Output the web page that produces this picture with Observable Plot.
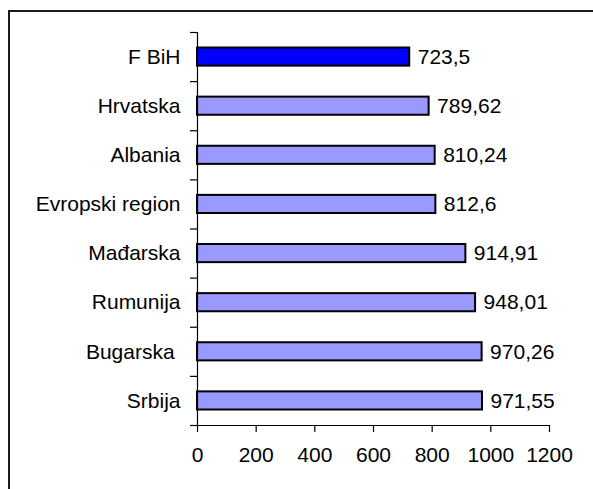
<!DOCTYPE html>
<html>
<head>
<meta charset="utf-8">
<script src="https://cdn.jsdelivr.net/npm/d3@7"></script>
<script src="https://cdn.jsdelivr.net/npm/@observablehq/plot@0.6"></script>
<style>
  html, body { margin: 0; padding: 0; background: #fff; }
  #wrap { position: relative; width: 593px; height: 489px; overflow: hidden; background: #fff; }
  #chart { position: absolute; left: 0; top: 0; z-index: 0; }
  .hline { position: absolute; left: 8px; top: 10px; width: 585px; height: 2px; background: #1a1a1a; z-index: 2; }
  .vline { position: absolute; left: 8px; top: 10px; width: 2px; height: 479px; background: #1a1a1a; z-index: 2; }
</style>
</head>
<body>
<div id="wrap"><div id="chart"></div><div class="hline"></div><div class="vline"></div></div>
<script>
const categories = ["F BiH", "Hrvatska", "Albania", "Evropski region", "Mađarska", "Rumunija", "Bugarska ", "Srbija"];
const values = [723.5, 789.62, 810.24, 812.6, 914.91, 948.01, 970.26, 971.55];
const valueLabels = ["723,5", "789,62", "810,24", "812,6", "914,91", "948,01", "970,26", "971,55"];
const highlight = ["F BiH"];
const xTicks = [0, 200, 400, 600, 800, 1000, 1200];

const rows = categories.map((c, i) => ({
  name: c, idx: i, value: values[i], label: valueLabels[i],
  hi: highlight.includes(c)
}));
const slots = d3.range(0, categories.length + 1);
const FS = 21;

const chart = Plot.plot({
  width: 593,
  height: 489,
  marginLeft: 197,
  marginRight: 44,
  marginTop: 32,
  marginBottom: 64,
  style: { fontFamily: "'Liberation Sans', Arial, sans-serif", fontSize: FS + "px", color: "#000", background: "transparent" },
  x: { domain: [0, 1200] },
  y: { domain: [0, categories.length], reverse: true },
  marks: [
    Plot.rectX(rows, {
      x1: 0, x2: "value", y1: "idx", y2: d => d.idx + 1,
      insetTop: 15.5, insetBottom: 15.5,
      fill: d => d.hi ? "#0000ff" : "#9999ff",
      stroke: "#000", strokeWidth: 2
    }),
    Plot.text(rows, {
      x: "value", y: d => d.idx + 0.5, text: "label",
      textAnchor: "start", dx: 8, fill: "#000", fontSize: FS
    }),
    Plot.text(rows, {
      x: 0, y: d => d.idx + 0.5, text: "name",
      textAnchor: "end", dx: -17, fill: "#000", fontSize: FS
    }),
    Plot.axisY({ ticks: slots, tickSize: 7, tickFormat: () => "", label: null, stroke: "#000", strokeWidth: 1.2 }),
    Plot.axisX({ ticks: xTicks, tickSize: 7, tickPadding: 15, tickFormat: d => String(d), fontSize: FS, stroke: "#000", strokeWidth: 1.2, label: null }),
    Plot.ruleX([0], { stroke: "#000", strokeWidth: 1.2 }),
    Plot.ruleY([categories.length], { stroke: "#000", strokeWidth: 1.2 })
  ]
});
document.getElementById("chart").appendChild(chart);
</script>
</body>
</html>
